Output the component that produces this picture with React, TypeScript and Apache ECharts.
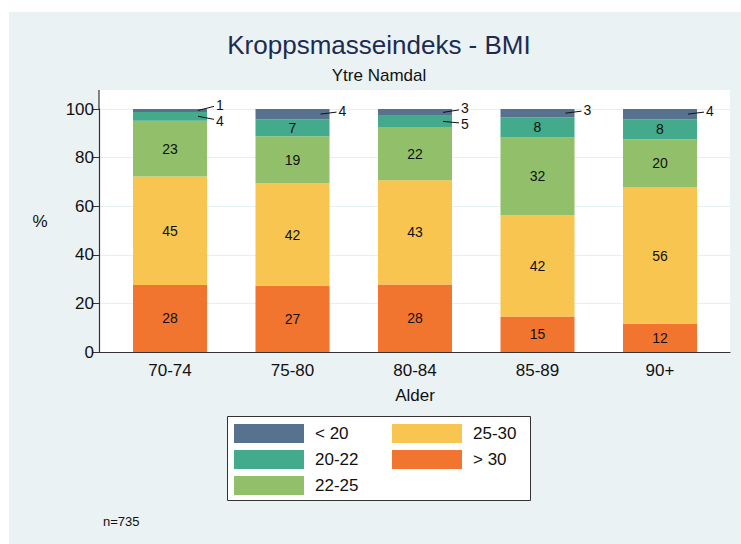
import React, { useEffect, useRef } from "react";
import * as echarts from "echarts";

const categories = ["70-74", "75-80", "80-84", "85-89", "90+"];
const seriesNames = ["< 20", "20-22", "22-25", "25-30", "> 30"];
const under20 = [1.2, 4.2, 2.8, 3.4, 4.2];
const bmi20to22 = [3.6, 7.0, 4.6, 8.3, 8.2];
const bmi22to25 = [23.0, 19.4, 21.9, 31.9, 19.9];
const bmi25to30 = [44.6, 42.1, 42.9, 41.8, 56.1];
const over30 = [27.6, 27.3, 27.8, 14.6, 11.6];
const yTicks = [0, 20, 40, 60, 80, 100];
const colors = ["#57728f", "#43aa8b", "#91bf6a", "#f8c551", "#f2752f"];
const sampleNote = "n=735";

const FONT = "Liberation Sans, Arial, Helvetica, sans-serif";
const INSIDE_MIN = 6;

export default function App() {
  const ref = useRef<HTMLDivElement>(null);
  useEffect(() => {
    document.body.style.margin = "0";
    if (!ref.current) return;
    const chart = echarts.init(ref.current, undefined, { renderer: "svg" });

    // bottom-to-top stacking order
    const stackOrder = [over30, bmi25to30, bmi22to25, bmi20to22, under20];
    const stackNames = ["> 30", "25-30", "22-25", "20-22", "< 20"];
    const stackColors = [colors[4], colors[3], colors[2], colors[1], colors[0]];

    const barSeries = stackOrder.map((vals, k) => ({
      name: stackNames[k],
      type: "bar",
      stack: "total",
      xAxisIndex: 1,
      yAxisIndex: 1,
      barWidth: 74,
      itemStyle: { color: stackColors[k] },
      label: {
        show: true,
        position: "inside",
        color: "#111",
        fontSize: 14,
        fontFamily: FONT,
        formatter: (p: any) => (p.value >= INSIDE_MIN ? String(Math.round(p.value)) : ""),
      },
      emphasis: { disabled: true },
      data: vals,
    }));

    // outside labels: [cat, lo, hi, label, isTop, partnerLo, partnerHi]
    const outsideData: any[] = [];
    categories.forEach((_, i) => {
      const bases: number[] = [];
      let base = 0;
      stackOrder.forEach((vals) => {
        bases.push(base);
        base += vals[i];
      });
      const small = stackOrder
        .map((vals, k) => ({ k, lo: bases[k], hi: bases[k] + vals[i], v: vals[i] }))
        .filter((s) => s.v < INSIDE_MIN);
      small.forEach((s) => {
        const partner = small.find((o) => o.k !== s.k);
        outsideData.push([
          i,
          s.lo,
          s.hi,
          Math.round(s.v),
          s.k === stackOrder.length - 1 ? 1 : 0,
          partner ? partner.lo : -1,
          partner ? partner.hi : -1,
        ]);
      });
    });

    const MIN_SEP = 16;
    const leaderSeries = {
      type: "custom",
      xAxisIndex: 1,
      yAxisIndex: 1,
      silent: true,
      z: 5,
      encode: { x: 0, y: 1 },
      data: outsideData,
      renderItem: (params: any, api: any) => {
        const i = api.value(0);
        const lo = api.coord([i, api.value(1)]);
        const hi = api.coord([i, api.value(2)]);
        const right = lo[0] + 37;
        const cy = (lo[1] + hi[1]) / 2;
        const isTop = api.value(4) === 1;
        let ty = isTop ? cy - 3.5 : cy + 2.5;
        if (api.value(5) >= 0) {
          const plo = api.coord([i, api.value(5)]);
          const phi = api.coord([i, api.value(6)]);
          const pcy = (plo[1] + phi[1]) / 2;
          const pty = isTop ? pcy + 2.5 : pcy - 3.5;
          const topY = isTop ? ty : pty;
          const botY = isTop ? pty : ty;
          if (botY - topY < MIN_SEP) {
            const mid = (topY + botY) / 2;
            ty = isTop ? mid - MIN_SEP / 2 : mid + MIN_SEP / 2;
          }
        }
        const x1 = right - 9;
        const x2 = right + 7;
        const y2 = isTop ? ty + 1.5 : ty - 1.5;
        return {
          type: "group",
          children: [
            {
              type: "line",
              shape: { x1, y1: cy, x2, y2 },
              style: { stroke: "#111", lineWidth: 1 },
            },
            {
              type: "text",
              x: x2 + 2,
              y: ty,
              style: {
                text: String(api.value(3)),
                fill: "#111",
                font: `14px ${FONT}`,
                textAlign: "left",
                textVerticalAlign: "middle",
              },
            },
          ],
        };
      },
    };

    const legendCommon = {
      orient: "vertical",
      top: 424,
      padding: 0,
      itemWidth: 70,
      itemHeight: 19,
      itemGap: 7,
      icon: "rect",
      selectedMode: false,
      textStyle: { color: "#111", fontSize: 17, fontFamily: FONT, padding: [0, 0, 0, 6] },
    };

    chart.setOption({
      animation: false,
      textStyle: { fontFamily: FONT },
      grid: [
        { left: 99, top: 109, width: 631, height: 243 },
        { left: 108.75, top: 109, width: 612.5, height: 243 },
      ],
      xAxis: [
        {
          type: "value",
          gridIndex: 0,
          min: 0,
          max: 1,
          axisLine: { show: true, lineStyle: { color: "#333", width: 1.2 } },
          axisTick: { show: false },
          axisLabel: { show: false },
          splitLine: { show: false },
        },
        {
          type: "category",
          gridIndex: 1,
          data: categories,
          axisLine: { show: false },
          axisTick: { show: false },
          axisLabel: { color: "#111", fontSize: 17, margin: 10, fontFamily: FONT },
          name: "Alder",
          nameLocation: "middle",
          nameGap: 35,
          nameTextStyle: { color: "#111", fontSize: 17, fontFamily: FONT },
        },
      ],
      yAxis: [
        {
          type: "value",
          gridIndex: 0,
          min: yTicks[0],
          max: yTicks[yTicks.length - 1],
          interval: 20,
          axisLine: { show: true, lineStyle: { color: "#333", width: 1.2 } },
          axisTick: { show: true, length: 6, lineStyle: { color: "#333" } },
          axisLabel: { color: "#111", fontSize: 17, margin: 5, fontFamily: FONT },
          splitLine: { show: true, lineStyle: { color: "#e6eff1", width: 1 } },
        },
        {
          type: "value",
          gridIndex: 1,
          min: 0,
          max: 100,
          show: false,
          splitLine: { show: false },
        },
      ],
      legend: [
        { ...legendCommon, data: [seriesNames[0], seriesNames[1], seriesNames[2]], left: 234 },
        { ...legendCommon, data: [seriesNames[3], seriesNames[4]], left: 392 },
      ],
      graphic: [
        { type: "rect", z: -100, shape: { x: 9, y: 12, width: 732, height: 532 }, style: { fill: "#eaf2f3" } },
        { type: "rect", z: -90, shape: { x: 99, y: 90, width: 631, height: 262 }, style: { fill: "#ffffff" } },
        { type: "line", z: 3, shape: { x1: 99, y1: 90, x2: 99, y2: 110 }, style: { stroke: "#333", lineWidth: 1.2 } },
        { type: "rect", z: -80, shape: { x: 227.5, y: 416.5, width: 303, height: 84 }, style: { fill: "#ffffff", stroke: "#333", lineWidth: 1 } },
        {
          type: "text",
          x: 379,
          y: 45,
          style: { text: "Kroppsmasseindeks - BMI", fill: "#1c2b52", font: `26px ${FONT}`, textAlign: "center", textVerticalAlign: "middle" },
        },
        {
          type: "text",
          x: 379,
          y: 75,
          style: { text: "Ytre Namdal", fill: "#111", font: `17px ${FONT}`, textAlign: "center", textVerticalAlign: "middle" },
        },
        {
          type: "text",
          x: 40,
          y: 221,
          style: { text: "%", fill: "#111", font: `17px ${FONT}`, textAlign: "center", textVerticalAlign: "middle" },
        },
        {
          type: "text",
          x: 103,
          y: 521,
          style: { text: sampleNote, fill: "#111", font: `13px ${FONT}`, textAlign: "left", textVerticalAlign: "middle" },
        },
      ],
      series: [...barSeries, leaderSeries],
    });
    return () => chart.dispose();
  }, []);
  return <div ref={ref} style={{ width: 741, height: 544 }} />;
}
